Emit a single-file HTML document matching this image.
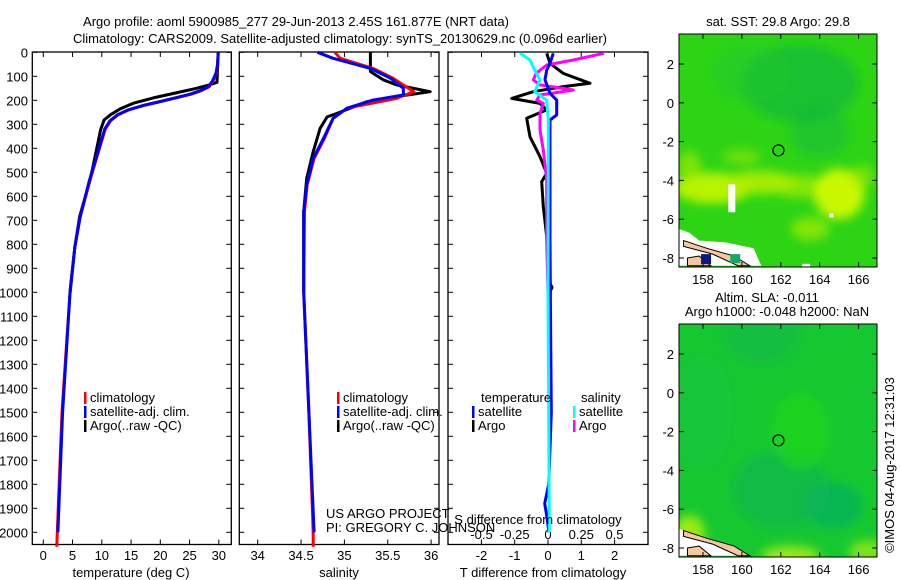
<!DOCTYPE html>
<html><head><meta charset="utf-8"><style>
body{margin:0;background:#fff;}
svg{display:block;font-family:"Liberation Sans",sans-serif;}
text{fill:#000;font-size:13px;}
</style></head><body>
<svg id="c" width="900" height="580">
<defs>
<filter id="blur6"><feGaussianBlur stdDeviation="5"/></filter>
<clipPath id="m1clip"><rect x="679" y="34" width="198" height="233"/></clipPath>
<clipPath id="m2clip"><rect x="679" y="324" width="198" height="233"/></clipPath>
</defs>
<text x="296" y="26" text-anchor="middle" font-size="14">Argo profile: aoml 5900985_277 29-Jun-2013 2.45S 161.877E (NRT data)</text>
<text x="340" y="43" text-anchor="middle" font-size="14">Climatology: CARS2009. Satellite-adjusted climatology: synTS_20130629.nc (0.096d earlier)</text>
<g id="maps"></g>
<g id="panels"></g>
</svg>
<script>
// ---- data ----
const depthTicks=[0,100,200,300,400,500,600,700,800,900,1000,1100,1200,1300,1400,1500,1600,1700,1800,1900,2000];
const tempTicks=[0,5,10,15,20,25,30];
const salTicks=[34,34.5,35,35.5,36];
const salTickLabels=["34","34.5","35","35.5","36"];
const tdiffTicks=[-2,-1,0,1,2];
const sdiffTicks=[-0.5,-0.25,0,0.25,0.5];
const sdiffTickLabels=["-0.5","-0.25","0","0.25","0.5"];

const tClimDepth=[0,50,88,120,143,160,175,190,205,220,240,260,285,320,393,532,685,810,990,1500,2000,2060];
const tClimVal=[29.9,29.8,29.6,29.0,28.4,27.0,25.2,22.7,20.1,17.4,14.6,12.8,11.5,10.6,9.7,8.0,6.3,5.4,4.6,3.2,2.4,2.3];
const tSatDepth=[0,50,88,120,143,160,175,190,205,220,240,260,285,320,393,532,685,810,990,1500,2000];
const tSatVal=[29.9,29.8,29.5,28.9,28.2,26.8,25.0,22.5,20.0,17.3,14.5,12.7,11.4,10.5,9.6,7.9,6.3,5.4,4.6,3.3,2.5];
const tArgoDepth=[0,125,135,150,170,190,212,235,260,282,323,406,532,685,810,1000];
const tArgoVal=[29.9,29.7,28.5,26.2,22.5,18.8,15.4,13.2,11.5,10.4,9.8,9.1,8.0,6.2,5.4,4.6];

const sClimDepth=[0,25,67,108,164,192,233,275,358,442,553,664,998,1500,2000,2060];
const sClimVal=[34.89,34.95,35.33,35.56,35.80,35.60,35.03,34.87,34.77,34.65,34.57,34.54,34.53,34.59,34.64,34.64];
const sSatDepth=[0,25,67,108,150,178,199,233,275,358,442,553,664,998,1500,2000];
const sSatVal=[34.69,34.87,35.30,35.53,35.68,35.68,35.33,35.03,34.87,34.76,34.64,34.565,34.53,34.53,34.59,34.65];
const sArgoDepth=[0,80,87,115,136,164,185,206,255,269,317,414,525,664,1000];
const sArgoVal=[35.30,35.30,35.33,35.45,35.60,35.99,35.60,35.26,34.91,34.80,34.72,34.64,34.565,34.53,34.53];

const dTArgoDepth=[4,46,88,129,143,164,192,213,240,275,352,435,504,539,643,768,900,960,980,1000];
const dTArgoVal=[-0.04,0.06,0.46,1.26,0.46,-0.44,-1.09,-0.24,-0.04,-0.64,-0.54,-0.24,-0.04,-0.19,-0.14,-0.04,0.02,0.05,0.12,0.05];
const dSArgoDepth=[4,32,53,88,115,136,157,178,199,213,254,324,407,532,782,1000];
const dSArgoVal=[0.42,0.19,-0.01,-0.09,-0.11,-0.06,0.19,-0.06,-0.085,-0.035,-0.06,-0.06,-0.035,-0.01,-0.01,0];
const dTSatDepth=[4,46,74,115,171,199,261,282,782,1200,1500,1800,1880,1920,2000];
const dTSatVal=[0.16,0.06,-0.04,-0.09,0.06,0.26,0.26,0.06,0.06,0.08,0.1,0.02,-0.1,-0.05,0.03];
const dSSatDepth=[4,32,74,115,164,199,282,1000,1500,2000];
const dSSatVal=[-0.21,-0.135,-0.1,-0.06,-0.1,-0.01,0.002,0.0,0.005,0.01];

const lonTicks=[158,160,162,164,166];
const latTicks=[2,0,-2,-4,-6,-8];
const argoLon=161.877, argoLat=-2.45;

// ---- helpers ----
const NS="http://www.w3.org/2000/svg";
const panels=document.getElementById('panels');
const maps=document.getElementById('maps');
function mk(tag,attrs,parent){const e=document.createElementNS(NS,tag);for(const k in attrs)e.setAttribute(k,attrs[k]);(parent||panels).appendChild(e);return e;}
const Y0=52.3, YS=0.24;
const yD=d=>Y0+d*YS;
const PB=544.5, PT=52;
const xT=v=>43.3+v*5.85;
const xS=v=>257.7+(v-34)*86.7;
const xDT=v=>548+v*33.3;
const xDS=v=>548+v*133;

function line(xs,ds,xf,color,w,name){
  let p=ds.map((d,i)=>(i?'L':'M')+xf(xs[i]).toFixed(1)+','+yD(d).toFixed(1)).join('');
  const e=mk('path',{d:p,fill:'none',stroke:color,'stroke-width':w,'stroke-linejoin':'round'});
  
  
}
function frame(x0,x1,name){
  const r=mk('rect',{x:x0,y:PT,width:x1-x0,height:PB-PT,fill:'none',stroke:'#000','stroke-width':1.3});
  
  
  depthTicks.forEach(d=>{mk('line',{x1:x0,x2:x0+5,y1:yD(d),y2:yD(d),stroke:'#000'});mk('line',{x1:x1-5,x2:x1,y1:yD(d),y2:yD(d),stroke:'#000'});});
}
function txt(x,y,s,anchor,name,size){
  const t=mk('text',{x:x,y:y,'text-anchor':anchor||'start'});
  if(size)t.setAttribute('font-size',size);
  t.textContent=s;
  
  
  return t;
}
function legend(x,y,items,grp){
  items.forEach((it,i)=>{
    mk('rect',{x:x,y:y+i*14-10,width:2.5,height:12,fill:it[1]});
    txt(x+6,y+i*14,it[0],'start','legend-'+grp+'-'+i,12);
  });
}

// ---- panel 1 temperature ----
frame(32.3,231.3,'temperature-panel');
depthTicks.forEach(d=>txt(28,yD(d)+5,String(d),'end','depth-tick-label',13));
tempTicks.forEach(v=>{mk('line',{x1:xT(v),x2:xT(v),y1:PB,y2:PB-5,stroke:'#000'});mk('line',{x1:xT(v),x2:xT(v),y1:PT,y2:PT+5,stroke:'#000'});txt(xT(v),560,String(v),'middle','temperature-tick-label',13);});
txt(131,577,'temperature (deg C)','middle','temperature-axis-title',13);
line(tArgoVal,tArgoDepth,xT,'#000',3,'temperature-argo-line');
line(tClimVal,tClimDepth,xT,'#f00',3,'temperature-climatology-line');
line(tSatVal,tSatDepth,xT,'#0000ff',3,'temperature-satellite-line');
legend(84,402,[['climatology','#f00'],['satellite-adj. clim.','#00f'],['Argo(..raw -QC)','#000']],'temp');

// ---- panel 2 salinity ----
frame(239.3,439,'salinity-panel');
salTicks.forEach((v,i)=>{mk('line',{x1:xS(v),x2:xS(v),y1:PB,y2:PB-5,stroke:'#000'});mk('line',{x1:xS(v),x2:xS(v),y1:PT,y2:PT+5,stroke:'#000'});txt(xS(v),560,salTickLabels[i],'middle','salinity-tick-label',13);});
txt(339,577,'salinity','middle','salinity-axis-title',13);
line(sArgoVal,sArgoDepth,xS,'#000',3,'salinity-argo-line');
line(sClimVal,sClimDepth,xS,'#f00',3,'salinity-climatology-line');
line(sSatVal,sSatDepth,xS,'#0000ff',3,'salinity-satellite-line');
legend(337,402,[['climatology','#f00'],['satellite-adj. clim.','#00f'],['Argo(..raw -QC)','#000']],'sal');
txt(326,518,'US ARGO PROJECT','start','project-label',13);
txt(326,532,'PI: GREGORY C. JOHNSON','start','pi-label',13);

// ---- panel 3 differences ----
frame(448,648,'difference-panel');
tdiffTicks.forEach(v=>{mk('line',{x1:xDT(v),x2:xDT(v),y1:PB,y2:PB-5,stroke:'#000'});txt(xDT(v),560,String(v),'middle','t-diff-tick-label',13);});
sdiffTicks.forEach((v,i)=>{mk('line',{x1:xDS(v),x2:xDS(v),y1:PT,y2:PT+5,stroke:'#000'});txt(xDS(v),539,sdiffTickLabels[i],'middle','s-diff-tick-label',13);});
txt(543,577,'T difference from climatology','middle','t-diff-axis-title',13);
line(dTArgoVal,dTArgoDepth,xDT,'#000',3,'t-diff-argo-line');
line(dSArgoVal,dSArgoDepth,xDS,'#ff00ff',3,'s-diff-argo-line');
line(dTSatVal,dTSatDepth,xDT,'#0000ff',3,'t-diff-satellite-line');
line(dSSatVal,dSSatDepth,xDS,'#00ffff',3,'s-diff-satellite-line');
txt(538,524,'S difference from climatology','middle','s-diff-axis-title',13);
txt(481,402,'temperature','start','legend-temperature-heading',12);
txt(581,402,'salinity','start','legend-salinity-heading',12);
legend(472,416,[['satellite','#00f'],['Argo','#000']],'tdiff');
legend(573,416,[['satellite','#0ff'],['Argo','#f0f']],'sdiff');

// ---- maps ----
function drawMap(top,clip,base,blobs,name,whiteLand){
  const xL=lon=>703+(lon-158)*19.45;
  const yL=lat=>top+30+(2-lat)*19.4;
  const g=mk('g',{'clip-path':'url(#'+clip+')'},maps);
  
  
  mk('rect',{x:679,y:top,width:198,height:233,fill:base},g);
  const bg=mk('g',{filter:'url(#blur6)'},g);
  blobs.forEach(b=>mk('ellipse',{cx:xL(b[0]),cy:yL(b[1]),rx:b[2]*19.4,ry:b[3]*19.4,fill:b[4],opacity:b[5]},bg));
  if(whiteLand){
    mk('path',{d:`M679,${yL(-6.5)} L${xL(157.3)},${yL(-6.7)} L${xL(157.8)},${yL(-7.1)} L${xL(159.2)},${yL(-7.2)} L${xL(160.6)},${yL(-7.5)} L${xL(161)},${yL(-8.4)} L679,${yL(-8.4)}Z`,fill:'#fff'},g);
    mk('rect',{x:xL(163.1),y:yL(-8.3),width:8,height:6,fill:'#fff'},g);
  } else {
    mk('path',{d:`M679,${yL(-7)} L${xL(157.8)},${yL(-7.5)} L${xL(159.5)},${yL(-8)} L${xL(160.3)},${yL(-8.4)} L679,${yL(-8.4)}Z`,fill:'#fff'},g);
  }
  mk('path',{d:`M${xL(157)},${yL(-7.1)} L${xL(158.2)},${yL(-7.5)} L${xL(159.6)},${yL(-7.9)} L${xL(160.4)},${yL(-8.4)} L${xL(159.8)},${yL(-8.4)} L${xL(158.5)},${yL(-7.8)} L${xL(157)},${yL(-7.4)}Z`,fill:'#f5c8a0',stroke:'#000','stroke-width':1},g);
  mk('path',{d:`M${xL(157.2)},${yL(-8.0)} L${xL(157.8)},${yL(-7.9)} L${xL(158.4)},${yL(-8.4)} L${xL(157.2)},${yL(-8.4)}Z`,fill:'#f5c8a0',stroke:'#000','stroke-width':1},g);
  const f=mk('rect',{x:679,y:top,width:198,height:233,fill:'none',stroke:'#000'},maps);
  
  
  lonTicks.forEach(v=>{mk('line',{x1:xL(v),x2:xL(v),y1:top+233,y2:top+228,stroke:'#000'},maps);mk('line',{x1:xL(v),x2:xL(v),y1:top,y2:top+5,stroke:'#000'},maps);
    const t=mk('text',{x:xL(v),y:top+250,'text-anchor':'middle'},maps);t.textContent=String(v);});
  latTicks.forEach(v=>{mk('line',{x1:877,x2:872,y1:yL(v),y2:yL(v),stroke:'#000'},maps);mk('line',{x1:679,x2:684,y1:yL(v),y2:yL(v),stroke:'#000'},maps);
    const t=mk('text',{x:674,y:yL(v)+5,'text-anchor':'end'},maps);t.textContent=String(v);});
  const c=mk('circle',{cx:xL(argoLon),cy:yL(argoLat),r:5.5,fill:'none',stroke:'#000','stroke-width':1.2},maps);
  
  
  return {xL,yL};
}
const m1=drawMap(34,'m1clip','#2cd414',[
 [163,1,3,2,'#12b83a',0.7],[160.5,1.5,2,1.5,'#1ec830',0.5],[164,-1.5,1.5,1.3,'#14b840',0.5],
 [158.5,-4.4,2,0.8,'#c0f400',0.95],[161,-4.1,1.8,0.6,'#b0ee00',0.9],[163,-4.3,1.5,0.6,'#a8ec00',0.7],
 [165,-4.7,1.3,1.3,'#d0fa00',0.95],[163.5,-6.5,1,0.6,'#a8ec00',0.7],[157.3,-3.3,0.6,0.8,'#a0ea00',0.7],
 [160,-2.8,1,0.4,'#98e800',0.6],[166.2,-3.8,0.6,0.6,'#a0ea00',0.6]
],'sst-map',true);
mk('rect',{x:m1.xL(159.3),y:m1.yL(-4.2),width:7,height:28,fill:'#fff'},maps);
mk('rect',{x:m1.xL(157.9),y:m1.yL(-7.8),width:10,height:10,fill:'#0a1a80'},maps);
mk('rect',{x:m1.xL(159.4),y:m1.yL(-7.8),width:10,height:9,fill:'#14a868'},maps);
mk('rect',{x:m1.xL(164.5),y:m1.yL(-5.7),width:4,height:4,fill:'#fff'},maps);
const m2=drawMap(324,'m2clip','#16c830',[
 [162,-5,2.5,2,'#10b84a',0.8],[164.7,-5.8,1.5,1.2,'#08b060',0.7],[161,3,2,1.5,'#10b848',0.6],[163,-2,1.5,2,'#20d818',0.6],
 [157.3,-7.3,0.8,1,'#a8f010',0.9],[162.5,-8.4,1.5,0.5,'#b8f010',0.8],[166.5,-8.2,1,0.6,'#a8f010',0.7],[158,-1,1.5,3,'#18c440',0.5]
],'sla-map',false);

function mtxt(x,y,s,anchor,name,size,rot){
  const t=mk('text',{x:x,y:y,'text-anchor':anchor},maps);
  if(size)t.setAttribute('font-size',size);
  if(rot)t.setAttribute('transform',rot);
  t.textContent=s;
  
  
}
mtxt(778,26,'sat. SST: 29.8 Argo: 29.8','middle','sst-map-title',12);
mtxt(767,302,'Altim. SLA: -0.011','middle','sla-map-title',12);
mtxt(777,316,'Argo h1000: -0.048 h2000: NaN','middle','sla-map-subtitle',12);
mtxt(894,465,'©IMOS 04-Aug-2017 12:31:03','middle','timestamp-label',13,'rotate(-90 894 465)');
</script>
</body></html>
